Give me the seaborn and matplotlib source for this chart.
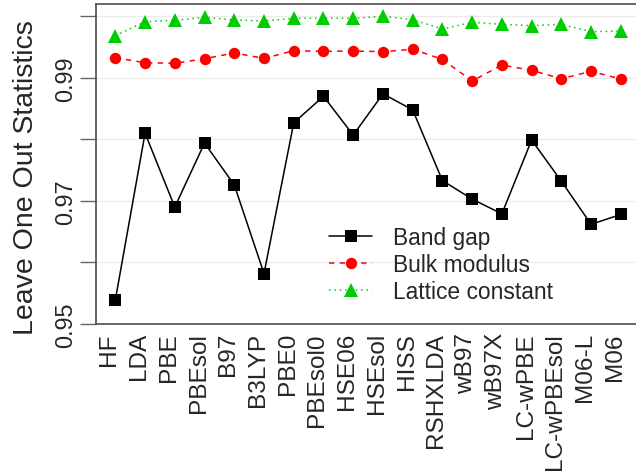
import matplotlib
matplotlib.use("Agg")
import matplotlib.pyplot as plt
import matplotlib.ticker as mticker
import numpy as np
import pandas as pd
import seaborn as sns

functionals = ["HF", "LDA", "PBE", "PBEsol", "B97", "B3LYP", "PBE0", "PBEsol0",
               "HSE06", "HSEsol", "HISS", "RSHXLDA", "wB97", "wB97X", "LC-wPBE",
               "LC-wPBEsol", "M06-L", "M06"]
band_gap = [0.9539, 0.9810, 0.9690, 0.9794, 0.9726, 0.9582, 0.9827, 0.9870, 0.9807,
            0.9874, 0.9848, 0.9733, 0.9703, 0.9679, 0.9799, 0.9732, 0.9662, 0.9678]
bulk_modulus = [0.99327, 0.99246, 0.99236, 0.99311, 0.99404, 0.99317, 0.99441, 0.99431,
                0.99436, 0.99425, 0.99464, 0.99301, 0.98949, 0.99209, 0.99122, 0.98986,
                0.99106, 0.98981]
lattice_constant = [0.99685, 0.99912, 0.99935, 0.99984, 0.99940, 0.99924, 0.99967, 0.99972,
                    0.99967, 1.00000, 0.99945, 0.99794, 0.99902, 0.99870, 0.99848, 0.99870,
                    0.99750, 0.99761]
y_ticks = [0.95, 0.96, 0.97, 0.98, 0.99, 1.00]
y_tick_labels = ["0.95", "", "0.97", "", "0.99", ""]
series_names = ["Band gap", "Bulk modulus", "Lattice constant"]

sns.set_style("white")
plt.rcParams["font.family"] = ["Liberation Sans", "DejaVu Sans"]

df = pd.DataFrame({"functional": functionals,
                   "Band gap": band_gap,
                   "Bulk modulus": bulk_modulus,
                   "Lattice constant": lattice_constant})

fig = plt.figure(figsize=(6.36, 4.77), dpi=100)
ax = fig.add_axes([95.7 / 636, 152 / 477, (636 - 95.7) / 636, 320 / 477])

styles = {
    "Band gap": dict(color="black", marker="s", markersize=8.0, linestyle="-"),
    "Bulk modulus": dict(color="#FF0000", marker="o", markersize=8.2, linestyle=(0, (3.5, 3.5))),
    "Lattice constant": dict(color="#00CD00", marker="^", markersize=10.5, linestyle=(0, (1, 2.5))),
}
for name in series_names:
    st = styles[name]
    sns.lineplot(data=df, x="functional", y=name, sort=False, ax=ax, label=name,
                 color=st["color"], marker=st["marker"], markersize=st["markersize"],
                 linestyle=st["linestyle"], lw=1.1, mew=0, zorder=3)

ax.set_xlim(-0.66, 17.51)
ax.set_ylim(0.95, 1.0020)

ax.set_yticks(y_ticks)
ax.set_yticklabels(y_tick_labels)
ax.xaxis.set_minor_locator(mticker.FixedLocator([4, 9, 14]))
ax.grid(True, which="major", axis="y", color="#EBEBEB", lw=1.0, zorder=0)
ax.grid(True, which="minor", axis="x", color="#EBEBEB", lw=1.0, zorder=0)
ax.grid(False, which="major", axis="x")
ax.set_axisbelow(True)

ax.tick_params(axis="y", which="major", length=11.3, width=1.0, color="#666666",
               pad=5.8, labelsize=16.8, left=True)
ax.tick_params(axis="x", which="both", length=0, pad=5.8, labelsize=17.6)

for lab in ax.get_yticklabels():
    lab.set_rotation(90)
    lab.set_rotation_mode("anchor")
    lab.set_ha("center")
    lab.set_va("baseline")
for lab in ax.get_xticklabels():
    lab.set_rotation(90)
    lab.set_rotation_mode("anchor")
    lab.set_ha("right")
    lab.set_va("baseline")

ax.set_xlabel("")
ax.set_ylabel("Leave One Out Statistics", fontsize=20.5, va="baseline")
ax.yaxis.set_label_coords((33 - 95.7) / 540.3, (325 - 177.5) / 320)

for key, sp in ax.spines.items():
    sp.set_visible(key != "right")
    sp.set_color("#4D4D4D")
    sp.set_linewidth(1.2)

handles, labels = ax.get_legend_handles_labels()
leg = ax.legend(handles, labels, loc="upper left",
                bbox_to_anchor=(329 / 636, 1 - 227 / 477), bbox_transform=fig.transFigure,
                frameon=False, fontsize=16.4, handlelength=1.9, handletextpad=0.9,
                labelspacing=0.18, borderpad=0, borderaxespad=0, numpoints=1)

fig.savefig("out.png", dpi=100)
